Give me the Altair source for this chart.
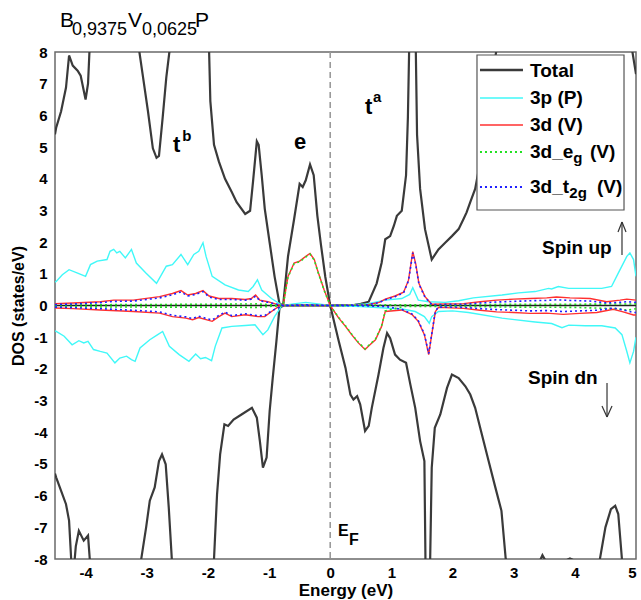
import altair as alt
import pandas as pd

FONT = "Liberation Sans"

# ---------------- data (Energy in eV, DOS in states/eV) ----------------
tot_up = [(-4.5, 5.4), (-4.48, 5.62), (-4.40, 6.13), (-4.32, 6.88), (-4.27, 7.89), (-4.21, 7.57),
          (-4.13, 7.41), (-4.08, 7.25), (-4.00, 6.5), (-3.96, 7.0), (-3.93, 8.3), (-3.85, 9.5),
          (-3.5, 10), (-3.2, 9.5), (-3.12, 8.0), (-3.06, 7.2), (-2.98, 6.13), (-2.90, 4.96),
          (-2.84, 4.66), (-2.80, 4.72), (-2.74, 5.92), (-2.68, 7.2), (-2.63, 8.0), (-2.55, 9.5),
          (-2.3, 10), (-2.05, 9.5), (-1.98, 8.0), (-1.96, 6.45), (-1.90, 5.07), (-1.82, 4.54),
          (-1.72, 4.0), (-1.61, 3.58), (-1.53, 3.26), (-1.39, 2.89), (-1.31, 2.99), (-1.26, 3.95),
          (-1.20, 5.18), (-1.17, 5.07), (-1.12, 4.11), (-1.07, 3.05), (-0.99, 1.98), (-0.91, 0.92),
          (-0.83, 0.06), (-0.77, 0.0), (-0.69, 1.55), (-0.59, 2.73), (-0.50, 3.84), (-0.45, 3.74),
          (-0.40, 3.95), (-0.33, 4.45), (-0.27, 4.11), (-0.21, 2.83), (-0.15, 1.9), (-0.08, 0.9),
          (0.0, 0.0), (0.2, 0.01), (0.4, 0.02), (0.5, 0.05), (0.63, 0.12), (0.76, 0.70),
          (0.84, 1.34), (0.90, 2.09), (0.98, 2.19), (1.04, 2.51), (1.09, 2.83), (1.17, 2.99),
          (1.24, 4.11), (1.27, 5.92), (1.29, 8.0), (1.32, 10), (1.40, 8.0), (1.42, 5.39),
          (1.47, 3.68), (1.55, 2.41), (1.66, 1.45), (1.77, 1.77), (1.88, 1.98), (1.99, 2.19),
          (2.10, 2.41), (2.18, 2.73), (2.23, 2.94), (2.29, 3.26), (2.34, 3.52), (2.37, 3.68),
          (2.45, 4.5), (2.6, 6.5), (2.75, 8.5), (3.0, 9.5), (3.5, 10), (4.0, 10), (4.5, 9.5),
          (4.8, 9.0), (4.9, 8.5), (5.0, 7.3)]

tot_dn = [(-4.5, -5.3), (-4.48, -5.43), (-4.40, -5.85), (-4.32, -6.27), (-4.27, -6.79), (-4.23, -8.2),
          (-4.20, -8.5), (-4.16, -7.6), (-4.11, -7.11), (-4.03, -7.42), (-3.96, -7.26), (-3.92, -8.3),
          (-3.85, -9.5), (-3.4, -10), (-3.12, -9.0), (-3.09, -8.0), (-3.01, -7.0), (-2.95, -6.16),
          (-2.87, -5.74), (-2.80, -4.91), (-2.75, -4.70), (-2.69, -5.01), (-2.64, -6.37), (-2.59, -8.0),
          (-2.55, -9.5), (-2.2, -10), (-1.93, -9.0), (-1.90, -8.0), (-1.85, -5.95), (-1.80, -4.70),
          (-1.73, -3.75), (-1.67, -3.80), (-1.58, -3.60), (-1.45, -3.44), (-1.28, -3.23), (-1.20, -3.54),
          (-1.15, -4.28), (-1.10, -5.12), (-1.04, -4.80), (-0.99, -3.33), (-0.94, -2.29), (-0.88, -1.13),
          (-0.83, -0.08), (-0.77, 0.0), (-0.4, 0.0), (0.0, 0.0), (0.14, -1.13), (0.25, -1.97),
          (0.33, -2.81), (0.38, -2.97), (0.44, -2.86), (0.49, -3.12), (0.57, -3.96), (0.63, -3.80),
          (0.68, -3.23), (0.79, -2.18), (0.87, -1.34), (0.93, -0.87), (0.98, -1.03), (1.06, -1.55),
          (1.14, -1.71), (1.24, -1.81), (1.31, -2.49), (1.39, -3.23), (1.47, -4.28), (1.54, -4.91),
          (1.56, -8.5), (1.60, -10), (1.63, -8.5), (1.66, -5.12), (1.71, -3.86), (1.80, -3.44),
          (1.91, -2.60), (1.99, -2.18), (2.10, -2.29), (2.21, -2.55), (2.29, -2.81), (2.37, -3.23),
          (2.48, -4.07), (2.59, -4.91), (2.70, -5.74), (2.80, -6.48), (2.87, -8.0), (2.95, -9.0),
          (3.3, -8.5), (3.43, -8.05), (3.47, -7.88), (3.52, -8.05), (3.6, -8.6), (3.88, -8.02),
          (3.92, -7.98), (3.96, -8.02), (4.2, -8.8), (4.41, -8.0), (4.50, -7.0), (4.59, -6.43),
          (4.66, -6.32), (4.71, -6.58), (4.77, -8.0), (4.85, -9.0), (5.0, -9.5)]

p_up = [(-4.5, 0.74), (-4.48, 0.76), (-4.38, 0.97), (-4.27, 1.13), (-4.13, 1.02), (-4.0, 0.92),
        (-3.92, 1.29), (-3.81, 1.40), (-3.65, 1.45), (-3.60, 1.71), (-3.54, 1.77), (-3.49, 1.66),
        (-3.44, 1.71), (-3.35, 1.50), (-3.25, 1.77), (-3.17, 1.34), (-3.01, 1.02), (-2.84, 0.70),
        (-2.68, 1.24), (-2.58, 1.29), (-2.44, 1.61), (-2.33, 1.29), (-2.23, 1.61), (-2.15, 1.71),
        (-2.08, 1.98), (-2.03, 1.55), (-1.93, 0.92), (-1.72, 0.65), (-1.50, 0.49), (-1.34, 0.44),
        (-1.26, 0.60), (-1.19, 0.81), (-1.12, 0.49), (-0.96, 0.22), (-0.83, 0.06), (-0.77, 0.0),
        (-0.6, 0.05), (-0.4, 0.1), (-0.2, 0.05), (0.0, 0.0), (0.3, 0.02), (0.6, 0.05), (0.90, 0.17),
        (1.17, 0.22), (1.30, 0.35), (1.35, 0.56), (1.44, 0.17), (1.61, 0.12), (1.88, 0.10),
        (2.1, 0.15), (2.34, 0.24), (2.81, 0.33), (3.08, 0.40), (3.35, 0.44), (3.57, 0.54),
        (3.62, 0.52), (3.73, 0.60), (3.90, 0.54), (4.17, 0.54), (4.44, 0.54), (4.60, 0.60),
        (4.71, 1.02), (4.85, 1.55), (4.90, 1.66), (4.96, 1.45), (5.0, 0.92)]

p_dn = [(-4.5, -0.80), (-4.48, -0.82), (-4.35, -0.97), (-4.22, -1.24), (-4.11, -1.11), (-4.03, -1.18),
        (-3.96, -1.13), (-3.87, -1.39), (-3.76, -1.45), (-3.65, -1.50), (-3.52, -1.81), (-3.44, -1.66),
        (-3.33, -1.60), (-3.25, -1.71), (-3.19, -1.76), (-3.11, -1.34), (-2.95, -1.08), (-2.82, -0.92),
        (-2.74, -0.82), (-2.63, -1.29), (-2.47, -1.55), (-2.31, -1.76), (-2.20, -1.53), (-2.12, -1.68),
        (-2.04, -1.64), (-1.94, -1.74), (-1.88, -1.29), (-1.77, -0.71), (-1.61, -0.66), (-1.39, -0.63),
        (-1.23, -0.61), (-1.10, -0.92), (-1.02, -0.77), (-0.91, -0.35), (-0.80, -0.03), (-0.77, 0.0),
        (0.0, 0.0), (0.5, -0.03), (0.90, -0.08), (1.20, -0.12), (1.39, -0.19), (1.54, -0.35),
        (1.62, -0.56), (1.66, -0.35), (1.77, -0.19), (2.0, -0.17), (2.26, -0.22), (2.81, -0.40),
        (3.35, -0.52), (3.62, -0.57), (3.79, -0.70), (3.90, -0.62), (4.17, -0.64), (4.44, -0.64),
        (4.66, -0.71), (4.77, -0.92), (4.85, -1.45), (4.90, -1.81), (4.96, -1.45), (5.0, -1.0)]

d_up = [(-4.5, 0.06), (-4.2, 0.08), (-3.76, 0.12), (-3.54, 0.17), (-3.22, 0.17), (-2.79, 0.28),
        (-2.58, 0.38), (-2.44, 0.47), (-2.33, 0.33), (-2.20, 0.38), (-2.08, 0.47), (-1.98, 0.30),
        (-1.82, 0.22), (-1.61, 0.22), (-1.39, 0.19), (-1.29, 0.22), (-1.22, 0.33), (-1.15, 0.17),
        (-1.02, 0.12), (-0.83, 0.01), (-0.77, 0.0), (-0.69, 0.92), (-0.59, 1.34), (-0.50, 1.40),
        (-0.40, 1.55), (-0.33, 1.64), (-0.26, 1.45), (-0.21, 1.13), (-0.1, 0.5), (0.0, 0.0),
        (0.3, 0.01), (0.6, 0.02), (0.8, 0.1), (0.9, 0.2), (1.06, 0.3), (1.2, 0.42), (1.28, 0.8),
        (1.35, 1.70), (1.40, 1.30), (1.45, 0.70), (1.55, 0.28), (1.66, 0.04), (2.18, 0.06),
        (2.45, 0.12), (2.72, 0.17), (3.0, 0.2), (3.27, 0.22), (3.54, 0.24), (3.70, 0.27),
        (3.92, 0.24), (4.25, 0.22), (4.52, 0.12), (4.74, 0.17), (4.85, 0.2), (5.0, 0.17)]

d_dn = [(-4.5, -0.08), (-4.2, -0.1), (-3.76, -0.14), (-3.22, -0.19), (-2.79, -0.24), (-2.58, -0.35),
        (-2.36, -0.40), (-2.25, -0.45), (-2.15, -0.38), (-1.93, -0.50), (-1.82, -0.35), (-1.72, -0.24),
        (-1.61, -0.35), (-1.39, -0.29), (-1.18, -0.35), (-1.07, -0.35), (-0.96, -0.19), (-0.83, -0.01),
        (-0.77, 0.0), (0.0, 0.0), (0.14, -0.40), (0.25, -0.66), (0.35, -0.92), (0.46, -1.18),
        (0.57, -1.39), (0.65, -1.24), (0.74, -1.08), (0.84, -0.66), (0.90, -0.19), (1.17, -0.14),
        (1.34, -0.29), (1.44, -0.50), (1.54, -0.92), (1.61, -1.55), (1.66, -0.92), (1.72, -0.19),
        (1.77, -0.06), (2.18, -0.09), (2.45, -0.15), (2.72, -0.20), (3.0, -0.22), (3.27, -0.25),
        (3.54, -0.24), (3.81, -0.28), (4.08, -0.25), (4.36, -0.22), (4.63, -0.12), (4.79, -0.20),
        (4.96, -0.30), (5.0, -0.30)]

eg_up = [(-4.5, 0.02), (-3.0, 0.03), (-2.0, 0.04), (-1.2, 0.05), (-0.77, 0.0), (-0.69, 0.90),
         (-0.59, 1.32), (-0.50, 1.38), (-0.40, 1.53), (-0.33, 1.62), (-0.26, 1.43), (-0.21, 1.11),
         (-0.1, 0.48), (0.0, 0.0), (1.0, 0.02), (2.0, 0.02), (3.0, 0.04), (4.0, 0.04), (5.0, 0.05)]

eg_dn = [(-4.5, -0.04), (-3.0, -0.05), (-2.0, -0.05), (-1.2, -0.06), (-0.77, 0.0), (0.0, 0.0),
         (0.14, -0.38), (0.25, -0.64), (0.35, -0.90), (0.46, -1.16), (0.57, -1.37), (0.65, -1.22),
         (0.74, -1.06), (0.84, -0.64), (0.90, -0.17), (1.2, -0.03), (2.0, -0.03), (3.0, -0.05),
         (4.0, -0.06), (4.7, -0.10), (4.85, -0.15), (5.0, -0.10)]

t2g_up = [(-4.5, 0.03), (-4.2, 0.05), (-3.76, 0.09), (-3.54, 0.13), (-3.22, 0.14), (-2.79, 0.24),
          (-2.58, 0.34), (-2.44, 0.43), (-2.33, 0.30), (-2.20, 0.35), (-2.08, 0.44), (-1.98, 0.27),
          (-1.82, 0.19), (-1.61, 0.19), (-1.39, 0.17), (-1.29, 0.20), (-1.22, 0.30), (-1.15, 0.15),
          (-1.02, 0.10), (-0.77, 0.0), (-0.4, 0.02), (0.0, 0.0), (0.6, 0.02), (0.8, 0.09),
          (0.9, 0.18), (1.06, 0.28), (1.2, 0.40), (1.28, 0.78), (1.35, 1.66), (1.40, 1.27),
          (1.45, 0.68), (1.55, 0.26), (1.66, 0.03), (2.18, 0.04), (2.45, 0.08), (2.72, 0.11),
          (3.0, 0.13), (3.27, 0.15), (3.54, 0.16), (3.70, 0.18), (3.92, 0.16), (4.25, 0.14),
          (4.52, 0.08), (4.74, 0.10), (4.85, 0.12), (5.0, 0.10)]

t2g_dn = [(-4.5, -0.05), (-4.2, -0.07), (-3.76, -0.10), (-3.22, -0.15), (-2.79, -0.20), (-2.58, -0.31),
          (-2.36, -0.36), (-2.25, -0.41), (-2.15, -0.34), (-1.93, -0.46), (-1.82, -0.31), (-1.72, -0.21),
          (-1.61, -0.32), (-1.39, -0.26), (-1.18, -0.32), (-1.07, -0.32), (-0.96, -0.17), (-0.77, 0.0),
          (0.0, 0.0), (0.5, -0.01), (0.90, -0.03), (1.17, -0.12), (1.34, -0.27), (1.44, -0.48),
          (1.54, -0.90), (1.61, -1.52), (1.66, -0.90), (1.72, -0.17), (1.77, -0.05), (2.18, -0.06),
          (2.45, -0.10), (2.72, -0.13), (3.0, -0.15), (3.27, -0.17), (3.54, -0.16), (3.81, -0.19),
          (4.08, -0.17), (4.36, -0.15), (4.63, -0.08), (4.79, -0.14), (4.96, -0.22), (5.0, -0.22)]

x_ticks = [-4, -3, -2, -1, 0, 1, 2, 3, 4, 5]
y_ticks = [-8, -7, -6, -5, -4, -3, -2, -1, 0, 1, 2, 3, 4, 5, 6, 7, 8]

series_data = [
    ("Total", tot_up, tot_dn),
    ("3p (P)", p_up, p_dn),
    ("3d (V)", d_up, d_dn),
    ("3d_eg (V)", eg_up, eg_dn),
    ("3d_t2g (V)", t2g_up, t2g_dn),
]

# ---------------- styles ----------------
styles = {
    "Total": ("#3a3a3a", 2.2, None),
    "3p (P)": ("#40f8f8", 1.4, None),
    "3d (V)": ("#ff3030", 1.4, None),
    "3d_eg (V)": ("#22e022", 1.6, [2, 3]),
    "3d_t2g (V)": ("#2020ff", 1.6, [2, 3]),
}

rows = []
for name, up, dn in series_data:
    for spin, pts in (("up", up), ("dn", dn)):
        for e, d in pts:
            rows.append({"series": name, "spin": spin, "E": e, "DOS": d})
df = pd.DataFrame(rows)

xenc = alt.X("E:Q", scale=alt.Scale(domain=[-4.5, 5], nice=False, zero=False),
             axis=alt.Axis(values=x_ticks, title="Energy (eV)", labelExpr="'' + datum.value",
                           labelOverlap=False, grid=False, domain=False, ticks=False,
                           labelFont=FONT, labelFontWeight="bold", labelFontSize=15,
                           labelColor="#000", labelPadding=6, titleFont=FONT,
                           titleFontWeight="bold", titleFontSize=17, titleColor="#000",
                           titlePadding=2))
yenc = alt.Y("DOS:Q", scale=alt.Scale(domain=[-8, 8], nice=False, zero=False),
             axis=alt.Axis(values=y_ticks, title="DOS (states/eV)", labelExpr="'' + datum.value",
                           labelOverlap=False, grid=False, domain=False, ticks=False,
                           labelFont=FONT, labelFontWeight="bold", labelFontSize=15,
                           labelColor="#000", labelPadding=8, titleFont=FONT,
                           titleFontWeight="bold", titleFontSize=16, titleColor="#000",
                           titlePadding=7))

layers = []
layers.append(alt.Chart(pd.DataFrame({"DOS": [0.0]})).mark_rule(color="#222", strokeWidth=1.3)
              .encode(y=yenc))
layers.append(alt.Chart(pd.DataFrame({"E": [0.0]})).mark_rule(color="#9a9a9a", strokeWidth=1.6,
              strokeDash=[6, 4]).encode(x=xenc))

for name, _, _ in series_data:
    col, w, dash = styles[name]
    kw = dict(color=col, strokeWidth=w, clip=True)
    if dash:
        kw["strokeDash"] = dash
    layers.append(alt.Chart(df[df.series == name]).mark_line(**kw)
                  .encode(x=xenc, y=yenc, detail="spin:N"))

# ---------------- annotations (placed in data units) ----------------
def text_layer(items, size, weight="bold", baseline="middle"):
    d = pd.DataFrame(items, columns=["E", "DOS", "label"])
    return alt.Chart(d).mark_text(font=FONT, fontSize=size, fontWeight=weight, align="left",
                                  baseline=baseline, color="#000").encode(
        x=xenc, y=yenc, text="label:N")

# title B0,9375V0,0625P
layers.append(text_layer([(-4.418, 8.789, "B"), (-3.306, 8.789, "V"), (-2.211, 8.789, "P")],
                         21, weight="normal", baseline="alphabetic"))
layers.append(text_layer([(-4.222, 8.536, "0,9375"), (-3.077, 8.536, "0,0625")],
                         18, weight="normal", baseline="alphabetic"))

# band labels
layers.append(text_layer([(-2.571, 5.065, "t"), (-0.592, 5.160, "e"), (0.569, 6.264, "t")], 22))
layers.append(text_layer([(-2.420, 5.349, "b"), (0.700, 6.580, "a")], 15))
layers.append(text_layer([(3.463, 1.815, "Spin up"), (3.234, -2.288, "Spin dn")], 19))
layers.append(text_layer([(0.127, -7.116, "E")], 16))
layers.append(text_layer([(0.307, -7.400, "F")], 16))

# arrows
arrows = pd.DataFrame([
    (4.771, 2.635, 4.771, 1.594), (4.771, 2.635, 4.706, 2.320), (4.771, 2.635, 4.837, 2.320),
    (4.526, -2.446, 4.526, -3.519), (4.526, -3.519, 4.444, -3.172), (4.526, -3.519, 4.608, -3.172),
], columns=["E", "DOS", "E2", "DOS2"])
layers.append(alt.Chart(arrows).mark_rule(color="#333", strokeWidth=1.2).encode(
    x=xenc, y=yenc, x2="E2:Q", y2="DOS2:Q"))

# legend box
box = pd.DataFrame([(2.400, 7.905, 4.804, 3.014)], columns=["E", "DOS", "E2", "DOS2"])
layers.append(alt.Chart(box).mark_rect(fill="white", stroke="#555", strokeWidth=1.2).encode(
    x=xenc, y=yenc, x2="E2:Q", y2="DOS2:Q"))

leg_rows = [7.432, 6.548, 5.696, 4.844, 3.740]
for (name, _, _), yy in zip(series_data, leg_rows):
    col, w, dash = styles[name]
    kw = dict(color=col, strokeWidth=w + 0.3)
    if dash:
        kw["strokeDash"] = dash
    seg = pd.DataFrame([(2.449, yy, 3.152)], columns=["E", "DOS", "E2"])
    layers.append(alt.Chart(seg).mark_rule(**kw).encode(x=xenc, y=yenc, x2="E2:Q"))

layers.append(text_layer([(3.267, 7.400, "Total"), (3.267, 6.548, "3p (P)"),
                          (3.267, 5.696, "3d (V)"), (3.267, 4.844, "3d_e"),
                          (4.248, 4.844, "(V)"), (3.267, 3.740, "3d_t"),
                          (4.362, 3.740, "(V)")], 19))
layers.append(text_layer([(3.975, 4.655, "g"), (3.910, 3.550, "2g")], 15))

chart = alt.layer(*layers).properties(
    width=581, height=507,
    autosize=alt.AutoSizeParams(type="none"),
    padding={"left": 55, "top": 52, "right": 5, "bottom": 41},
    background="white",
).configure_view(stroke="#6a6a6a", strokeWidth=1.5)

chart.save("out.html", embed_options={"renderer": "svg", "actions": False})
